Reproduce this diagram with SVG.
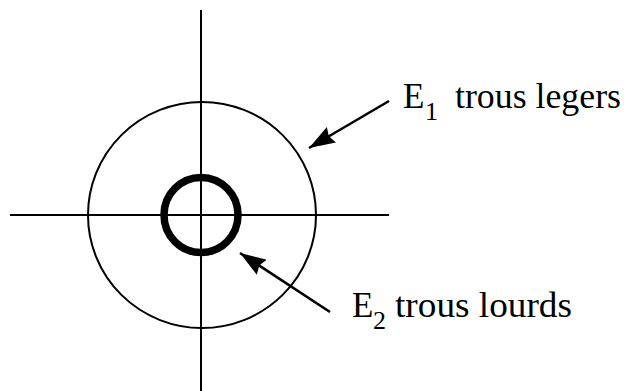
<svg xmlns="http://www.w3.org/2000/svg" width="628" height="391" viewBox="0 0 628 391">
<style>
.ln{stroke:#000;fill:none;stroke-width:2}
.arr{stroke:#000;fill:none;stroke-width:2.6}
.lbl{font-family:"Liberation Serif","Times New Roman",serif;font-size:35px;fill:#000}
.sub{font-size:26px}
</style>
<defs>
<marker id="ah" viewBox="0 0 26 18" refX="26" refY="9" markerWidth="26" markerHeight="18" markerUnits="userSpaceOnUse" orient="auto">
<path d="M0,0 L26,9 L0,18 L3,9 z" fill="#000"/>
</marker>
</defs>
<g id="axes">
<line class="ln" x1="201" y1="10" x2="201" y2="391"/>
<line class="ln" x1="10" y1="215" x2="389" y2="215"/>
</g>
<g id="E1">
<ellipse class="ln" cx="202" cy="215" rx="114" ry="113"/>
</g>
<g id="E2">
<ellipse cx="201" cy="215" rx="37" ry="37.5" fill="none" stroke="#000" stroke-width="7.5"/>
</g>
<g id="connectors">
<line class="arr" x1="389" y1="101" x2="309" y2="148" marker-end="url(#ah)"/>
<line class="arr" x1="330" y1="312" x2="240" y2="253" marker-end="url(#ah)"/>
</g>
<g id="label1">
<text class="lbl" x="403" y="108">E</text>
<text class="lbl sub" x="425" y="120">1</text>
<text class="lbl" x="455" y="108" textLength="166" lengthAdjust="spacingAndGlyphs">trous legers</text>
</g>
<g id="label2">
<text class="lbl" x="352" y="317">E</text>
<text class="lbl sub" x="373" y="329">2</text>
<text class="lbl" x="395" y="317" textLength="177" lengthAdjust="spacingAndGlyphs">trous lourds</text>
</g>
</svg>
